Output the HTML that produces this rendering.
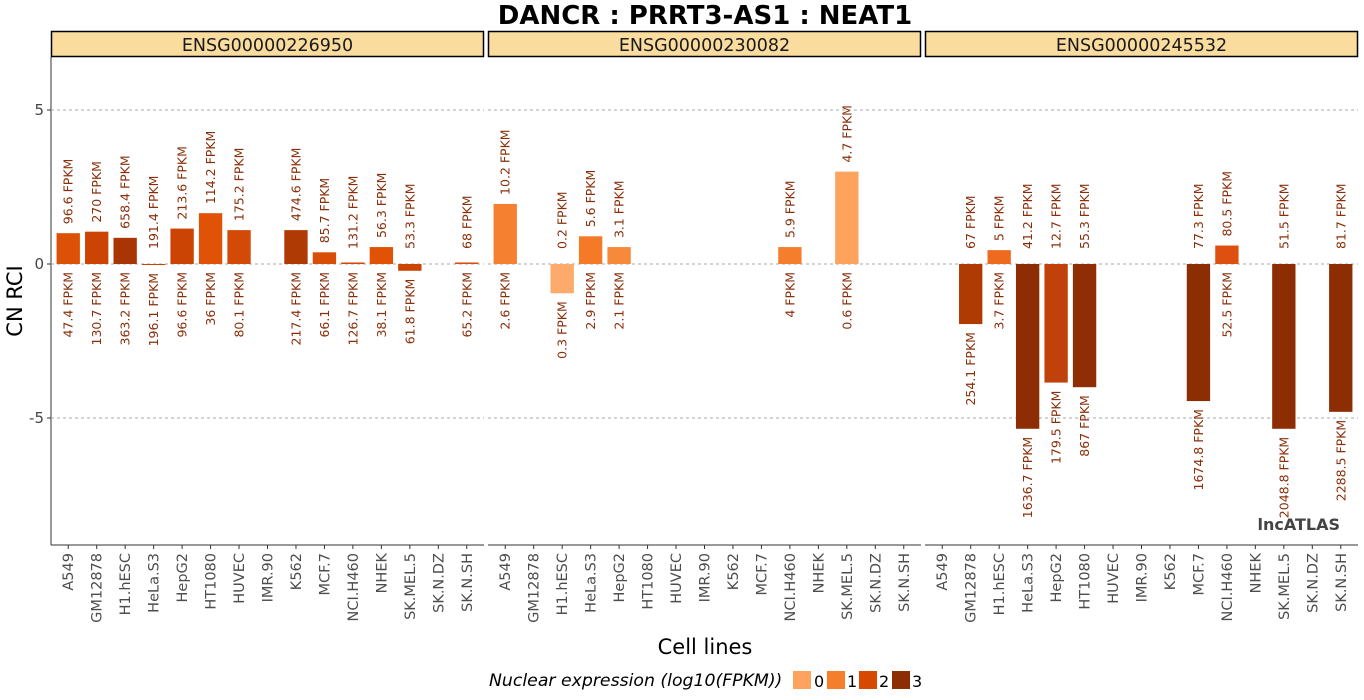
<!DOCTYPE html>
<html><head><meta charset="utf-8"><style>
body{margin:0;background:#fff;}
svg{display:block;font-family:"Liberation Sans","DejaVu Sans",sans-serif;}
</style></head><body>
<svg id="chart" width="1364" height="700" viewBox="0 0 1364 700" xmlns="http://www.w3.org/2000/svg">
<text x="705" y="24" text-anchor="middle" font-size="26" font-weight="bold" font-family="DejaVu Sans, sans-serif">DANCR : PRRT3-AS1 : NEAT1</text>
<text transform="translate(22,301) rotate(-90)" text-anchor="middle" font-size="21" font-family="DejaVu Sans, sans-serif">CN RCI</text>
<text x="705" y="654" text-anchor="middle" font-size="21" font-family="DejaVu Sans, sans-serif">Cell lines</text>
<g id="plot"></g>
<text x="1340" y="530" text-anchor="end" font-size="16" font-weight="bold" fill="#444" font-family="DejaVu Sans, sans-serif">lncATLAS</text>
<g font-family="DejaVu Sans, sans-serif">
<text x="489" y="686" font-size="17.3" font-style="italic">Nuclear expression (log10(FPKM))</text>
<rect x="793" y="671" width="18" height="18" fill="#fda35e"/>
<text x="814" y="687" font-size="16">0</text>
<rect x="827" y="671" width="18" height="18" fill="#f47e2b"/>
<text x="847" y="687" font-size="16">1</text>
<rect x="859" y="671" width="18" height="18" fill="#d94801"/>
<text x="879" y="687" font-size="16">2</text>
<rect x="892" y="671" width="18" height="18" fill="#8c2d04"/>
<text x="912" y="687" font-size="16">3</text>
</g>
</svg>
<script>
const genes=["ENSG00000226950","ENSG00000230082","ENSG00000245532"];
const yTicks=[5,0,-5];
const cats=["A549","GM12878","H1.hESC","HeLa.S3","HepG2","HT1080","HUVEC","IMR.90","K562","MCF.7","NCI.H460","NHEK","SK.MEL.5","SK.N.DZ","SK.N.SH"];
const rci1=[1.0,1.05,0.85,-0.03,1.15,1.65,1.1,null,1.1,0.38,0.05,0.55,-0.22,null,0.05];
const nuc1=["96.6","270","658.4","191.4","213.6","114.2","175.2",null,"474.6","85.7","131.2","56.3","53.3",null,"68"];
const cyt1=["47.4","130.7","363.2","196.1","96.6","36","80.1",null,"217.4","66.1","126.7","38.1","61.8",null,"65.2"];
const col1=["#dd5007","#cc4404","#a83503","#c84404","#cc4404","#e05206","#d24a05",null,"#b03a04","#d84e06","#d44a05","#e05206","#cc4404",null,"#d84e06"];
const rci2=[1.95,null,-0.95,0.9,0.55,null,null,null,null,null,0.55,null,3.0,null,null];
const nuc2=["10.2",null,"0.2","5.6","3.1",null,null,null,null,null,"5.9",null,"4.7",null,null];
const cyt2=["2.6",null,"0.3","2.9","2.1",null,null,null,null,null,"4",null,"0.6",null,null];
const col2=["#f58030",null,"#fdaa6a","#f47a28","#f68a3a",null,null,null,null,null,"#f47e2b",null,"#fda35e",null,null];
const rci3=[null,-1.95,0.45,-5.35,-3.85,-4.0,null,null,null,-4.45,0.6,null,-5.35,null,-4.8];
const nuc3=[null,"67","5","41.2","12.7","55.3",null,null,null,"77.3","80.5",null,"51.5",null,"81.7"];
const cyt3=[null,"254.1","3.7","1636.7","179.5","867",null,null,null,"1674.8","52.5",null,"2048.8",null,"2288.5"];
const col3=[null,"#b03a04","#ee6a1f","#8c2d04","#c0420a","#8f2d04",null,null,null,"#8c2d04","#dd500f",null,"#8c2d04",null,"#8c2d04"];
const panels=[[rci1,nuc1,cyt1,col1],[rci2,nuc2,cyt2,col2],[rci3,nuc3,cyt3,col3]];

(function(){
const NS="http://www.w3.org/2000/svg";
const g=document.getElementById('plot');
function mk(t,a){const e=document.createElementNS(NS,t);for(const k in a)e.setAttribute(k,a[k]);g.appendChild(e);return e;}
const pTop=57,pBot=545,pw=433;
const px=[51,488,925];
function y(v){return 264-v*30.8;}
const step=(pw-6)/cats.length;
function x(pi,i){return px[pi]+3+step*(i+0.5);}

const ya=mk('line',{x1:51,x2:51,y1:pTop,y2:pBot,stroke:'#333','stroke-width':1});


yTicks.forEach(t=>{
  const tl=mk('text',{x:44,y:y(t)+5,'text-anchor':'end','font-size':15,fill:'#444','font-family':'DejaVu Sans, sans-serif'});
  tl.textContent=String(t);
  
  
  const tk=mk('line',{x1:47,x2:51,y1:y(t),y2:y(t),stroke:'#333'});
  
  
});

panels.forEach((pd,pi)=>{
  const rci=pd[0],nuc=pd[1],cyt=pd[2],col=pd[3];
  const X0=px[pi];
  const s=mk('rect',{x:X0+0.5,y:31.5,width:pw-1,height:25,fill:'#f9dc9e',stroke:'#000','stroke-width':1.5});
  
  
  const st=mk('text',{x:X0+pw/2,y:51,'text-anchor':'middle','font-size':17.5,fill:'#1a1a1a','font-family':'DejaVu Sans, sans-serif'});
  st.textContent=genes[pi];
  
  
  yTicks.forEach(t=>{
    const gl=mk('line',{x1:X0,x2:X0+pw,y1:y(t),y2:y(t),stroke:'#aaa','stroke-dasharray':'3,3','stroke-width':1});
    
    
  });
  const xa=mk('line',{x1:X0,x2:X0+pw,y1:pBot,y2:pBot,stroke:'#333'});
  
  
  cats.forEach((c,i)=>{
    const cx=x(pi,i);
    const tk=mk('line',{x1:cx,x2:cx,y1:pBot,y2:pBot+4,stroke:'#333'});
    
    
    const tl=mk('text',{transform:'translate('+(cx+5)+',553) rotate(-90)','text-anchor':'end','font-size':14.5,fill:'#4d4d4d','font-family':'DejaVu Sans, sans-serif'});
    tl.textContent=c;
    
    
    const v=rci[i];
    if(v===null)return;
    const bw=step*0.82;
    const b=mk('rect',{x:cx-bw/2,y:Math.min(y(v),y(0)),width:bw,height:Math.max(Math.abs(y(v)-y(0)),1),fill:col[i]});
    
    
    const ta=Math.min(y(v),y(0)-6)-9;
    const t1=mk('text',{transform:'translate('+(cx+4.5)+','+ta+') rotate(-90)','text-anchor':'start','font-size':12.5,fill:'#8b2f0a','font-family':'DejaVu Sans, sans-serif'});
    t1.textContent=nuc[i]+' FPKM';
    
    
    const ba=Math.max(y(v),y(0))+8;
    const t2=mk('text',{transform:'translate('+(cx+4.5)+','+ba+') rotate(-90)','text-anchor':'end','font-size':12.5,fill:'#8b2f0a','font-family':'DejaVu Sans, sans-serif'});
    t2.textContent=cyt[i]+' FPKM';
    
    
  });
});
})();
</script>
</body></html>
